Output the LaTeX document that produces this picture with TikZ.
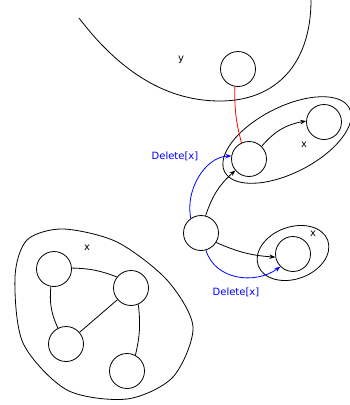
\documentclass[tikz,border=0pt]{standalone}
\usepackage{fontspec}
\setmainfont{DejaVu Sans}
\usetikzlibrary{arrows.meta}

\begin{document}
\begin{tikzpicture}[x=1pt,y=-1pt,line width=0.8pt,>={Stealth[length=6pt,width=4.5pt]},
  vert/.style={draw,circle,minimum size=35pt,inner sep=0pt},
  lbl/.style={font=\fontsize{10}{12}\selectfont}]
\useasboundingbox (0,0) rectangle (350,405);
% the sets
\draw (79,18) .. controls (130,85) and (180,101) .. (220,101) .. controls (275,101) and (311,65) .. (311,0);
\draw[rotate around={27:(287,140)}] (287,140) ellipse (70 and 33);
\draw[rotate around={20:(293,253)}] (293,253) ellipse (37 and 26);
\draw plot[smooth cycle] coordinates {(15,277) (27,240) (63,229) (117,242) (167,280) (193,327) (173,377) (127,399) (67,390) (23,343)};
\node[lbl] (ly) at (181,60) {y};
\node[lbl] (lx1) at (304,145) {x};
\node[lbl] (lx2) at (313,234) {x};
\node[lbl] (lx3) at (87,248) {x};
% vertices
\node[vert] (y1) at (238,69) {};
\node[vert] (x1) at (249,159) {};
\node[vert] (x2) at (324,122) {};
\node[vert] (m) at (201,233) {};
\node[vert] (x3) at (293,254) {};
\node[vert] (a) at (54,269) {};
\node[vert] (b) at (131,288) {};
\node[vert] (c) at (66,344) {};
\node[vert] (d) at (127,371) {};
% edges
\draw[red] (y1.260) to[bend right=8] (x1.115);
\draw[->] (x1.45) to[bend left=20] (x2.177);
\draw[->] (m.75) to[bend left=15] (x1.220);
\draw[->] (m.-32) to[bend right=10] (x3.190);
\draw[->,blue] (m.125) .. controls (185,190) and (205,157) .. (x1.170);
\draw[->,blue] (m.-74) .. controls (215,280) and (255,285) .. (x3.225);
\node[lbl,blue] (del1) at (175,156) {Delete[x]};
\node[lbl,blue] (del2) at (236,292) {Delete[x]};
\draw (a.3) to[bend left=10] (b.142);
\draw (a.260) to[bend right=15] (c.117);
\draw (b) -- (c);
\draw (b.294) to[bend left=10] (d.62);
\end{tikzpicture}
\end{document}
